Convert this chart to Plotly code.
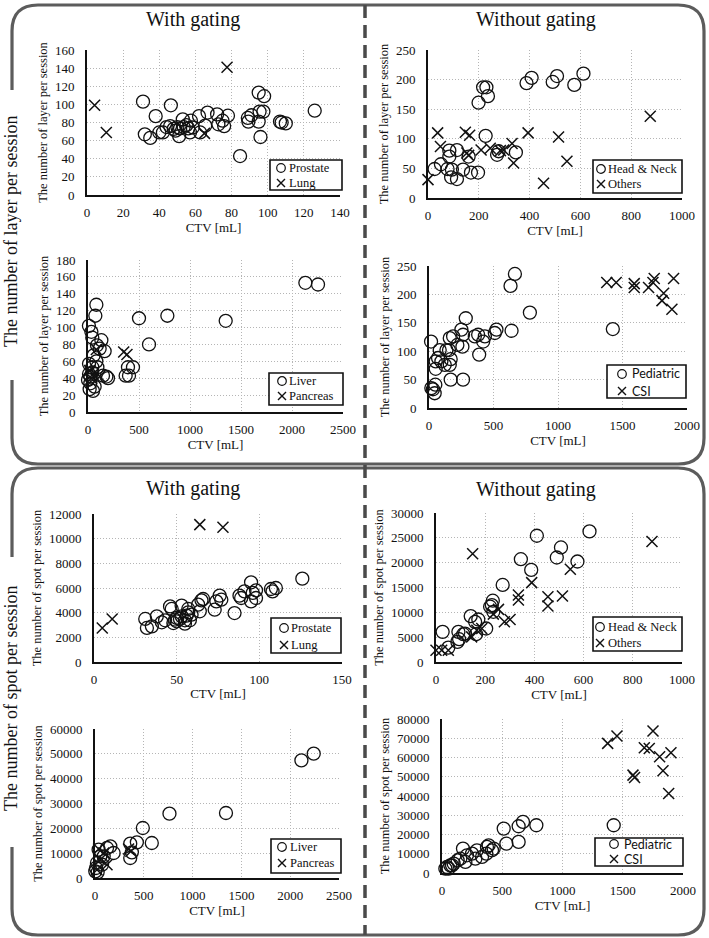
import plotly.graph_objects as go

W, H = 709, 938

# ---------------- DATA ----------------
# Panel 1: layers per session, with gating (Prostate / Lung)
p1_prostate_ctv = [31, 32, 35, 38, 40, 42, 46.4, 44, 46, 48, 49, 50, 51, 51.5, 53, 53.5, 55, 56, 57.5, 57,
                   58.5, 62, 62.6, 65.4, 66.7, 72, 72.7, 75, 75.9, 78, 84.7, 89, 89.3, 91, 95, 98, 95.5,
                   97.6, 95, 96, 106.8, 107.7, 110, 126]
p1_prostate_layer = [103, 67, 63, 87, 69, 69, 99, 75, 76, 73, 71, 75, 65, 73.5, 83.5, 75, 77, 73.5, 82, 69,
                     74.5, 87, 69, 76.5, 91, 89, 78, 82, 76, 87.5, 43, 85, 81, 88, 113, 109, 92,
                     92, 81, 64, 81, 80, 79, 93]
p1_lung_ctv = [4.2, 10.7, 65, 77.5]
p1_lung_layer = [99, 69, 68, 141]

# Panel 2: layers per session, without gating (Head & Neck / Others)
p2_hn_ctv = [26, 51, 84, 84, 77, 94, 91, 114, 114, 138, 160, 169, 197, 199, 217, 230, 236, 227, 272, 278,
             346, 388, 408, 491, 508, 576, 612]
p2_hn_layer = [49, 57, 80, 70, 49, 48, 35, 32, 81, 48, 70, 43, 43, 161, 187, 187, 172, 105, 73, 79,
               77, 194, 203, 196, 206, 191, 210]
p2_oth_ctv = [0, 38, 49, 147, 164, 153, 209, 245, 298, 331, 337, 394, 514, 547, 455, 875, 160, 285]
p2_oth_layer = [31, 110, 87, 111, 106, 76, 81, 84, 81, 92, 59, 110, 103, 62, 25, 138, 72, 80]

# Panel 3: layers per session, with gating (Liver / Pancreas)
p3_liver_ctv = [9, 33, 42, 82, 72, 131, 114, 163, 88, 55, 82, 10, 42, 92, 10, 0, 23, 16, 49, 65, 147, 180,
                196, 500, 598, 778, 1350, 2131, 2255, 369, 402, 392, 441, 23, 42]
p3_liver_layer = [102, 95, 88, 127, 114, 85, 75, 72, 79, 67, 60, 57, 53, 53, 45, 38, 34, 27, 25, 30, 43, 42,
                  40, 111, 80, 114, 108, 153, 151, 43, 43, 53, 53, 42, 47]
p3_panc_ctv = [350, 382, 82, 33, 49, 114, 16]
p3_panc_layer = [71, 68, 74, 40, 45, 42, 49]

# Panel 4: layers per session, without gating (Pediatric / CSI)
p4_ped_ctv = [16, 18, 31, 44, 49, 52, 52, 70, 83, 96, 122, 135, 161, 168, 168, 161, 187, 155, 251, 259,
              264, 264, 285, 355, 381, 389, 420, 433, 510, 523, 632, 666, 640, 782, 1425, 220]
p4_ped_layer = [117, 35, 33, 26, 41, 69, 82, 88, 102, 82, 76, 102, 123, 86, 50, 76, 126, 102, 138, 108,
                50, 129, 158, 126, 129, 94, 117, 126, 132, 138, 215, 236, 136, 168, 139, 111]
p4_csi_ctv = [1378, 1451, 1591, 1591, 1702, 1736, 1746, 1819, 1806, 1883, 1896]
p4_csi_layer = [221, 221, 212, 219, 212, 221, 228, 202, 189, 174, 228]

# Panel 5: spots per session, with gating (Prostate / Lung)
p5_prostate_ctv = [31, 32, 35, 38, 41, 43, 46, 47, 48, 49, 50, 50, 53, 53, 55, 56, 57, 57, 58, 59, 63, 64,
                   65, 66, 73, 74, 76, 77, 85, 88, 89, 91, 95, 95, 96, 98, 98, 107, 108, 110, 126, 52, 55]
p5_prostate_spot = [3490, 2760, 2890, 3700, 3220, 3380, 4510, 4300, 3160, 3430, 3570, 3300, 4570, 3700, 3380,
                    3760, 4300, 4030, 3380, 3840, 4650, 4110, 5000, 5110, 4240, 4920, 5380, 5050, 3970, 5380,
                    5190, 5730, 6460, 4920, 5600, 5190, 5810, 5920, 5730, 6000, 6760, 3490, 3110]
p5_lung_ctv = [5, 11, 64, 78]
p5_lung_spot = [2760, 3490, 11140, 10920]

# Panel 6: spots per session, without gating (Head & Neck / Others)
p6_hn_ctv = [27, 50, 87, 91, 94, 111, 118, 141, 159, 163, 172, 204, 220, 231, 233, 227, 271, 345, 387, 410,
             491, 508, 575, 624]
p6_hn_spot = [6070, 2900, 4050, 6070, 4590, 5600, 5730, 9240, 8090, 5600, 8560, 6740, 11130, 12340, 10110,
              11460, 15510, 20700, 18540, 25420, 21040, 23060, 20230, 26300]
p6_oth_ctv = [0, 23, 50, 149, 145, 166, 186, 233, 254, 278, 301, 335, 335, 389, 455, 455, 514, 546, 878]
p6_oth_spot = [2360, 2360, 2360, 21780, 5060, 6410, 6740, 9640, 10590, 8090, 8560, 13490, 12480, 15980,
               13150, 11260, 13280, 18680, 24280]

# Panel 7: spots per session, with gating (Liver / Pancreas)
p7_liver_ctv = [2115, 2241, 763, 1342, 490, 582, 429, 361, 361, 378, 157, 123, 191, 54, 20, 10, 3, 37, 89,
                72, 27]
p7_liver_spot = [47380, 50070, 25910, 26170, 20130, 14090, 14360, 13830, 8050, 10340, 12750, 12080, 10070,
                 8730, 6040, 4030, 2690, 11410, 8730, 5370, 2280]
p7_panc_ctv = [344, 368, 37, 89, 123, 54, 20]
p7_panc_spot = [11680, 10740, 11680, 10070, 5370, 7380, 3360]

# Panel 8: spots per session, without gating (Pediatric / CSI)
p8_ped_ctv = [1425, 512, 534, 636, 636, 672, 783, 387, 373, 415, 429, 368, 277, 332, 290, 174, 194, 130,
              97, 69, 41, 28, 55, 83, 152, 207, 249]
p8_ped_spot = [24810, 23080, 15270, 16140, 24290, 26550, 24810, 14400, 13540, 11800, 12670, 10060, 7460,
               8330, 11800, 12670, 5730, 6590, 4860, 3990, 3120, 2260, 2260, 3990, 7460, 9200, 10060]
p8_csi_ctv = [1375, 1452, 1585, 1598, 1679, 1720, 1751, 1806, 1834, 1900, 1881]
p8_csi_spot = [67330, 71140, 50840, 49630, 65070, 64720, 73750, 60390, 53100, 62470, 41300]

# axis ranges / ticks
x_ranges = [[0, 140], [0, 1000], [0, 2500], [0, 2000], [0, 150], [0, 1000], [0, 2500], [0, 2000]]
x_dticks = [20, 200, 500, 500, 50, 200, 500, 500]
y_ranges = [[0, 160], [0, 250], [0, 180], [0, 250], [0, 12000], [0, 30000], [0, 60000], [0, 80000]]
y_dticks = [20, 50, 20, 50, 2000, 5000, 10000, 10000]
y_titles = ["The number of layer per session"] * 4 + ["The number of spot per session"] * 4
x_title = "CTV [mL]"
section_titles = ["With gating", "Without gating", "With gating", "Without gating"]
side_titles = ["The number of layer per session", "The number of spot per session"]

series = [
    [("Prostate", p1_prostate_ctv, p1_prostate_layer, "o"), ("Lung", p1_lung_ctv, p1_lung_layer, "x")],
    [("Head & Neck", p2_hn_ctv, p2_hn_layer, "o"), ("Others", p2_oth_ctv, p2_oth_layer, "x")],
    [("Liver", p3_liver_ctv, p3_liver_layer, "o"), ("Pancreas", p3_panc_ctv, p3_panc_layer, "x")],
    [("Pediatric", p4_ped_ctv, p4_ped_layer, "o"), ("CSI", p4_csi_ctv, p4_csi_layer, "x")],
    [("Prostate", p5_prostate_ctv, p5_prostate_spot, "o"), ("Lung", p5_lung_ctv, p5_lung_spot, "x")],
    [("Head & Neck", p6_hn_ctv, p6_hn_spot, "o"), ("Others", p6_oth_ctv, p6_oth_spot, "x")],
    [("Liver", p7_liver_ctv, p7_liver_spot, "o"), ("Pancreas", p7_panc_ctv, p7_panc_spot, "x")],
    [("Pediatric", p8_ped_ctv, p8_ped_spot, "o"), ("CSI", p8_csi_ctv, p8_csi_spot, "x")],
]

# ---------------- LAYOUT (pixel geometry) ----------------
SERIF = "Liberation Serif"
SANS = "Lato"
INK = "#111"

# plot boxes: x0, x1, ytop, ybottom (pixels)
boxes = [(87, 340, 50, 195), (428, 682, 50, 198), (88, 343, 260, 412), (429, 687, 266, 408),
         (94, 342, 514, 662), (436, 682, 513, 662), (95, 339, 729, 878), (442, 683, 719, 873)]
# legend boxes: left, right, top, bottom, row1 y, row2 y, symbol x, text x (pixels)
legend_geo = [(270, 342, 160, 190, 168, 183, 281, 288),
              (593, 682, 160, 193, 169, 184, 601, 607),
              (269, 343, 373, 405, 381, 396, 282, 288),
              (607, 686, 365, 398, 374, 391, 622, 631),
              (271, 341, 618, 653, 628, 645, 284, 290),
              (593, 682, 617, 651, 627, 643, 600, 607),
              (271, 341, 839, 873, 847, 863, 282, 289),
              (595, 683, 838, 866, 844, 859, 614, 623)]
legend_fonts = [SERIF, SERIF, SERIF, SANS, SERIF, SERIF, SERIF, SANS]


def fx(px):
    return px / W


def fy(py):
    return 1 - py / H


fig = go.Figure()
layout = dict(
    width=W, height=H, margin=dict(l=0, r=0, t=0, b=0),
    paper_bgcolor="white", plot_bgcolor="white", template="none",
    font=dict(family=SERIF, size=12, color=INK),
    showlegend=False,
)
annotations = []
shapes = []

for i in range(8):
    n = "" if i == 0 else str(i + 1)
    x0, x1, yt, yb = boxes[i]
    for (name, xs, ys, sym) in series[i]:
        if sym == "o":
            marker = dict(symbol="circle-open", size=13, color=INK, line=dict(width=1.3, color=INK))
        else:
            marker = dict(symbol="x-thin-open", size=11, color=INK, line=dict(width=1.5, color=INK))
        fig.add_trace(go.Scatter(x=xs, y=ys, mode="markers", name=name, marker=marker,
                                 xaxis="x" + n, yaxis="y" + n, cliponaxis=False, showlegend=False))
    common = dict(showgrid=True, gridcolor="#b5b5b5", griddash="1px,2px", gridwidth=1, zeroline=False,
                  showline=True, linecolor=INK, linewidth=2, ticks="", tickformat="d",
                  tickfont=dict(size=13, family=SERIF, color=INK),
                  mirror=False, automargin=False)
    layout["xaxis" + n] = dict(common, domain=[fx(x0), fx(x1)], anchor="y" + n, range=x_ranges[i],
                               dtick=x_dticks[i], tick0=0, ticklabelstandoff=4,
                               title=dict(text=x_title, font=dict(size=13, family=SERIF, color=INK), standoff=3))
    layout["yaxis" + n] = dict(common, domain=[fy(yb), fy(yt)], anchor="x" + n, range=y_ranges[i],
                               dtick=y_dticks[i], tick0=0, ticklabelstandoff=8,
                               title=dict(text=y_titles[i], font=dict(size=12.5, family=SERIF, color=INK),
                                          standoff=5))

    # legend box drawn in the Excel style: border, small symbol, label
    l, r, t, b, r1, r2, sx, tx = legend_geo[i]
    shapes.append(dict(type="rect", xref="paper", yref="paper", x0=fx(l), x1=fx(r), y0=fy(b), y1=fy(t),
                       line=dict(color=INK, width=1.6), fillcolor="white", layer="above"))
    rad = 4.3
    shapes.append(dict(type="circle", xref="paper", yref="paper", x0=fx(sx - rad), x1=fx(sx + rad),
                       y0=fy(r1 + rad), y1=fy(r1 - rad), line=dict(color=INK, width=1.2), layer="above"))
    d = 4.0
    shapes.append(dict(type="path", xref="paper", yref="paper",
                       path=(f"M {fx(sx - d):.5f},{fy(r2 - d):.5f} L {fx(sx + d):.5f},{fy(r2 + d):.5f} "
                             f"M {fx(sx - d):.5f},{fy(r2 + d):.5f} L {fx(sx + d):.5f},{fy(r2 - d):.5f}"),
                       line=dict(color=INK, width=1.4), layer="above"))
    for (ry, (name, _, _, _)) in zip([r1, r2], series[i]):
        annotations.append(dict(x=fx(tx), y=fy(ry), xref="paper", yref="paper", text=name, showarrow=False,
                                xanchor="left", yanchor="middle", borderpad=0,
                                font=dict(size=12.5, family=legend_fonts[i], color=INK)))

# section titles and big side labels
for (tx, ty), txt in zip([(193, 20), (536, 20), (193, 488), (536, 489)], section_titles):
    annotations.append(dict(x=fx(tx), y=fy(ty), xref="paper", yref="paper", text=txt, showarrow=False,
                            font=dict(size=20, family=SERIF, color=INK), xanchor="center", yanchor="middle"))
for (tx, ty), txt in zip([(11, 232), (11, 699)], side_titles):
    annotations.append(dict(x=fx(tx), y=fy(ty), xref="paper", yref="paper", text=txt, showarrow=False,
                            textangle=-90, font=dict(size=18, family=SERIF, color=INK),
                            xanchor="center", yanchor="middle"))
layout["annotations"] = annotations


def P(x, y):
    return f"{fx(x):.5f},{fy(y):.5f}"


def box_path(left, top, right, bottom, r, gap_top, gap_bottom):
    return (f"M {P(left, gap_top)} L {P(left, top + r)} Q {P(left, top)} {P(left + r, top)} "
            f"L {P(right - r, top)} Q {P(right, top)} {P(right, top + r)} "
            f"L {P(right, bottom - r)} Q {P(right, bottom)} {P(right - r, bottom)} "
            f"L {P(left + r, bottom)} Q {P(left, bottom)} {P(left, bottom - r)} L {P(left, gap_bottom)}")


frame = dict(color="#5c5c5c", width=3.2)
shapes += [
    dict(type="path", xref="paper", yref="paper", path=box_path(12, 5, 704, 464, 26, 90, 380), line=frame),
    dict(type="path", xref="paper", yref="paper", path=box_path(12, 468, 704, 935, 26, 557, 847), line=frame),
    dict(type="line", xref="paper", yref="paper", x0=fx(365), x1=fx(365), y0=fy(5), y1=fy(935),
         line=dict(color="#4a4a4a", width=3.5, dash="13px,7px")),
]
layout["shapes"] = shapes

fig.update_layout(**layout)
fig.write_html("out.html", config={"displayModeBar": False},
               post_script="document.body.style.margin='0';document.body.style.overflow='hidden';")
